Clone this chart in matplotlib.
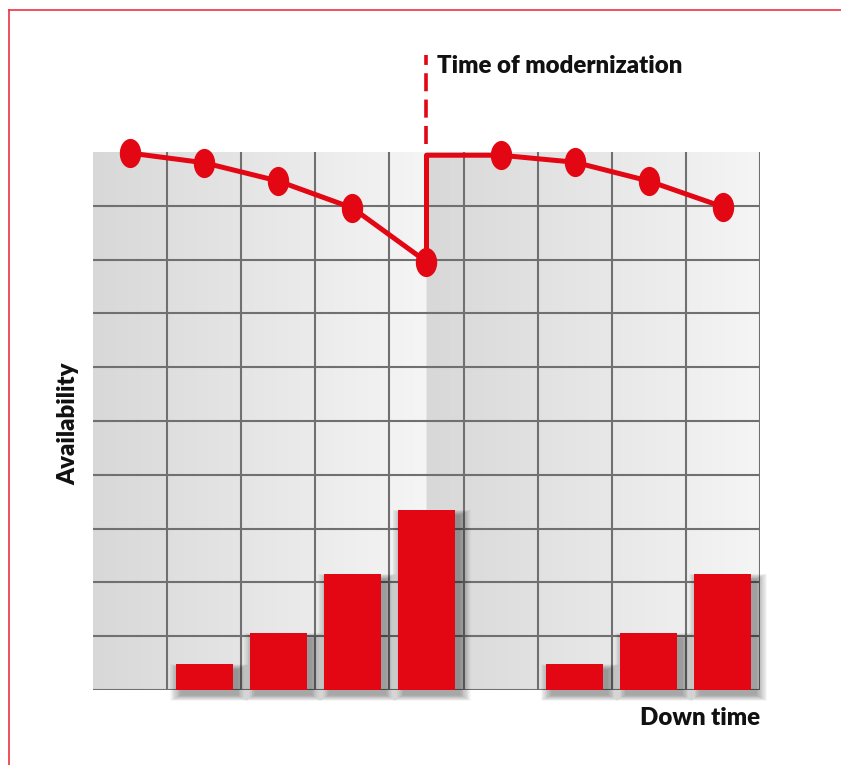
import matplotlib
matplotlib.use('Agg')

import matplotlib.pyplot as plt
import numpy as np
from matplotlib.path import Path
from matplotlib.transforms import Affine2D
from matplotlib.lines import Line2D

# availability before modernization (column centres)
before_x = [0.5, 1.5, 2.5, 3.5, 4.5]
before_y = [9.98, 9.80, 9.46, 8.96, 7.96]
# availability after modernization
after_x = [5.5, 6.5, 7.5, 8.5]
after_y = [9.94, 9.81, 9.46, 8.98]
# down time bars
bar_x = [1.5, 2.5, 3.5, 4.5, 6.5, 7.5, 8.5]
bar_h = [0.48, 1.06, 2.16, 3.35, 0.48, 1.06, 2.16]
modern_x = 4.5

red = '#e30613'
plt.rcParams['font.family'] = ['Lato', 'DejaVu Sans']

fig = plt.figure(figsize=(8.41, 7.65), dpi=100)
ax = fig.add_axes([93 / 841, 75 / 765, 667 / 841, 538 / 765])

# gray background, gradient restarts at the time of modernization
g = np.linspace(216, 245, 200) / 255.0
grad = np.concatenate([g, g])
img = np.dstack([grad, grad, grad])
ax.imshow(img, extent=[0, 9, 0, 10], aspect='auto', zorder=0)

ax.set_xlim(0, 9)
ax.set_ylim(0, 10)
for s in ax.spines.values():
    s.set_visible(False)
ax.set_xticks([])
ax.set_yticks([])

# grid
ax.vlines(np.arange(1, 10), 0, 10, color='#707070', linewidth=1.5, zorder=1)
ax.hlines(np.arange(0, 10), 0, 9, color='#707070', linewidth=1.5, zorder=1)

# bars with a soft drop shadow
w = 0.77
for k in range(14):
    grow = 0.011 * k
    ax.bar(np.array(bar_x) + 0.07, np.array(bar_h) + grow * 1.4, width=w + grow * 2,
           bottom=-0.1 - grow * 0.7, color='black', alpha=0.028, linewidth=0,
           zorder=2, clip_on=False)
ax.bar(bar_x, bar_h, width=w, color=red, linewidth=0, zorder=3)

# availability line
ell = Path.unit_circle().transformed(Affine2D().scale(0.72, 1.0))
ax.plot(before_x, before_y, color=red, linewidth=3.6, zorder=4, clip_on=False)
ax.plot(before_x, before_y, linestyle='none', marker=ell, markersize=20,
        color=red, zorder=5, clip_on=False)
ax.plot([modern_x, modern_x] + after_x, [before_y[-1], after_y[0]] + after_y,
        color=red, linewidth=3.6, zorder=4, clip_on=False)
ax.plot(after_x, after_y, linestyle='none', marker=ell, markersize=20,
        color=red, zorder=5, clip_on=False)

# dashed marker for time of modernization
ax.plot([modern_x, modern_x], [10.15, 11.8], color=red, linewidth=2.6,
        linestyle=(0, (5, 2.3)), clip_on=False, zorder=4)
ax.text(modern_x + 0.135, 11.6, 'Time of modernization', fontsize=17.3,
        fontweight='heavy', ha='left', va='center', color='#111111')

fig.text(68 / 841, 1 - 424 / 765, 'Availability', rotation=90, fontsize=17.3,
         fontweight='heavy', ha='center', va='center', color='#111111')
fig.text(760 / 841, 1 - 718 / 765, 'Down time', fontsize=17.3,
         fontweight='heavy', ha='right', va='center', color='#111111')

# red frame on top and left
fig.add_artist(Line2D([9 / 841, 1], [1 - 10 / 765, 1 - 10 / 765], color='#ee3340', linewidth=1.2))
fig.add_artist(Line2D([9 / 841, 9 / 841], [0, 1 - 10 / 765], color='#ee3340', linewidth=1.2))

plt.savefig('out.png', dpi=100)
